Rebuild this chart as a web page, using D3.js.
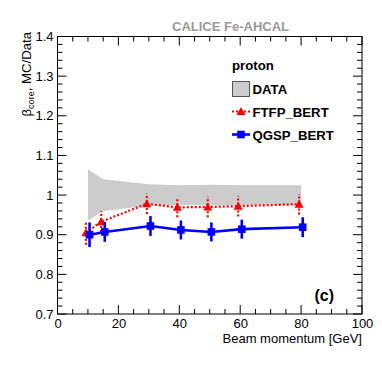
<!DOCTYPE html>
<html>
  <head>
    <meta charset="UTF-8" />
    <script src="https://cdnjs.cloudflare.com/ajax/libs/d3/7.8.5/d3.min.js"></script>
    <style>
      body { margin: 0; background: #fff; }
      text { font-family: "Liberation Sans", Arial, sans-serif; fill: #000; }
    </style>
  </head>
  <body>
    <svg id="chart" width="382" height="366"></svg>
    <script>
      // beam momenta [GeV]
      const momenta = [10, 15, 30, 40, 50, 60, 80];
      // data band: ratio 1 with its uncertainty
      const dataErr = [0.065, 0.04, 0.027, 0.025, 0.026, 0.025, 0.025];
      const ftfpBert = [0.905, 0.933, 0.978, 0.969, 0.970, 0.972, 0.977];
      const ftfpErr = [0.03, 0.026, 0.026, 0.025, 0.026, 0.026, 0.026];
      const qgspBert = [0.900, 0.907, 0.922, 0.912, 0.907, 0.914, 0.919];
      const qgspErr = [0.031, 0.025, 0.025, 0.024, 0.024, 0.024, 0.025];
      const xTicks = [0, 20, 40, 60, 80, 100];
      const yTicks = [0.7, 0.8, 0.9, 1, 1.1, 1.2, 1.3, 1.4];

      const svg = d3.select("#chart");
      const padL = 57.5, padR = 362, padT = 36.5, padB = 314;

      const x = d3.scaleLinear().domain([0, 100]).range([padL, padR]);
      const y = d3.scaleLinear().domain([0.7, 1.4]).range([padB, padT]);

      // data band
      const band = momenta.map((m, i) => ({ m, lo: 1 - dataErr[i], hi: 1 + dataErr[i] }));
      svg.append("path")
        .datum(band)
        .attr("d", d3.area().x(d => x(d.m)).y0(d => y(d.lo)).y1(d => y(d.hi)))
        .attr("fill", "#cccccc");

      function series(vals, errs, color, dash, shift, marker) {
        const pts = momenta.map((m, i) => ({ px: x(m) + shift, v: vals[i], e: errs[i] }));
        const g = svg.append("g");
        g.append("path")
          .datum(pts)
          .attr("d", d3.line().x(d => d.px).y(d => y(d.v)))
          .attr("fill", "none")
          .attr("stroke", color)
          .attr("stroke-width", dash ? 2.2 : 2.6)
          .attr("stroke-dasharray", dash);
        g.selectAll("line.err")
          .data(pts)
          .join("line")
          .attr("x1", d => d.px).attr("x2", d => d.px)
          .attr("y1", d => y(d.v - d.e)).attr("y2", d => y(d.v + d.e))
          .attr("stroke", color)
          .attr("stroke-width", dash ? 2.2 : 2.6)
          .attr("stroke-dasharray", dash);
        g.selectAll("path.mk")
          .data(pts)
          .join("path")
          .attr("transform", d => `translate(${d.px},${y(d.v)})`)
          .attr("d", marker)
          .attr("fill", color);
      }

      const tri = "M0,-4.5L4.5,3.5L-4.5,3.5Z";
      const sq = "M-3.8,-3.8H3.8V3.8H-3.8Z";
      series(ftfpBert, ftfpErr, "#ff0000", "2,2", -2, tri);
      series(qgspBert, qgspErr, "#0000ff", null, 1.6, sq);

      // frame with inward ticks
      const frame = svg.append("g");
      frame.append("rect")
        .attr("x", padL).attr("y", padT)
        .attr("width", padR - padL).attr("height", padB - padT)
        .attr("fill", "none").attr("stroke", "#000").attr("stroke-width", 1);

      const xMinor = d3.range(0, 101, 5);
      const yMinor = d3.range(0, 36).map(i => 0.7 + i * 0.02);
      const tk = (sel, data, attrs) => sel.selectAll(null).data(data).join("line")
        .attr("stroke", "#000").attr("stroke-width", 1)
        .each(function (d) { const s = d3.select(this); for (const k in attrs) s.attr(k, attrs[k](d)); });

      const xMajor = v => xTicks.some(t => Math.abs(t - v) < 1e-6);
      const yMajor = v => yTicks.some(t => Math.abs(t - v) < 1e-6);
      tk(frame, xMinor, { x1: d => x(d), x2: d => x(d), y1: () => padB, y2: d => padB - (xMajor(d) ? 9 : 5) });
      tk(frame, xMinor, { x1: d => x(d), x2: d => x(d), y1: () => padT, y2: d => padT + (xMajor(d) ? 9 : 5) });
      tk(frame, yMinor, { x1: () => padL, x2: d => padL + (yMajor(d) ? 9 : 5), y1: d => y(d), y2: d => y(d) });
      tk(frame, yMinor, { x1: () => padR, x2: d => padR - (yMajor(d) ? 9 : 5), y1: d => y(d), y2: d => y(d) });

      // tick labels via axes
      const xAxis = d3.axisBottom(x).tickValues(xTicks).tickSize(0).tickPadding(4.5).tickFormat(d3.format("d"));
      svg.append("g").attr("transform", `translate(0,${padB})`).call(xAxis)
        .call(g => g.select(".domain").remove())
        .selectAll("text").style("font-size", "13px").attr("fill", "#000");
      const yAxis = d3.axisLeft(y).tickValues(yTicks).tickSize(0).tickPadding(4).tickFormat(d => String(+d.toFixed(1)));
      svg.append("g").attr("transform", `translate(${padL},0)`).call(yAxis)
        .call(g => g.select(".domain").remove())
        .selectAll("text").style("font-size", "13px").attr("fill", "#000");
      svg.selectAll(".tick text").style("font-family", "Liberation Sans, Arial, sans-serif");

      // axis titles
      svg.append("text")
        .attr("x", padR).attr("y", 343)
        .attr("text-anchor", "end")
        .style("font-size", "13px")
        .text("Beam momentum [GeV]");

      const yl = svg.append("text")
        .attr("transform", `translate(31,32) rotate(-90)`)
        .attr("text-anchor", "end")
        .style("font-size", "13.2px");
      yl.append("tspan").text("β");
      yl.append("tspan").attr("dy", 3).style("font-size", "9px").text("core");
      yl.append("tspan").attr("dy", -3).text(", MC/Data");

      // header
      svg.append("text")
        .attr("x", 289).attr("y", 31)
        .attr("text-anchor", "end")
        .style("font-size", "13px").style("font-weight", "bold")
        .style("fill", "#999999")
        .text("CALICE Fe-AHCAL");

      svg.append("text")
        .attr("x", 334).attr("y", 301)
        .attr("text-anchor", "end")
        .style("font-size", "16px").style("font-weight", "bold")
        .text("(c)");

      // legend
      const lg = svg.append("g");
      lg.append("text").attr("x", 232).attr("y", 69.5)
        .style("font-size", "13.2px").style("font-weight", "bold").text("proton");
      lg.append("rect").attr("x", 232.5).attr("y", 81.5).attr("width", 17).attr("height", 15)
        .attr("fill", "#cccccc").attr("stroke", "#555").attr("stroke-width", 1);
      const legendRows = [
        { label: "DATA", cy: 89 },
        { label: "FTFP_BERT", cy: 111.5, color: "#ff0000", dash: "2,2", mk: tri },
        { label: "QGSP_BERT", cy: 134.5, color: "#0000ff", dash: null, mk: sq }
      ];
      legendRows.forEach(r => {
        if (r.color) {
          lg.append("line").attr("x1", 232).attr("x2", 250).attr("y1", r.cy).attr("y2", r.cy)
            .attr("stroke", r.color).attr("stroke-width", r.dash ? 2.2 : 2.6).attr("stroke-dasharray", r.dash);
          lg.append("path").attr("transform", `translate(241,${r.cy})`).attr("d", r.mk).attr("fill", r.color);
        }
        lg.append("text").attr("x", 252.5).attr("y", r.cy + 5)
          .style("font-size", "13.2px").style("font-weight", "bold").text(r.label);
      });
    </script>
  </body>
</html>
